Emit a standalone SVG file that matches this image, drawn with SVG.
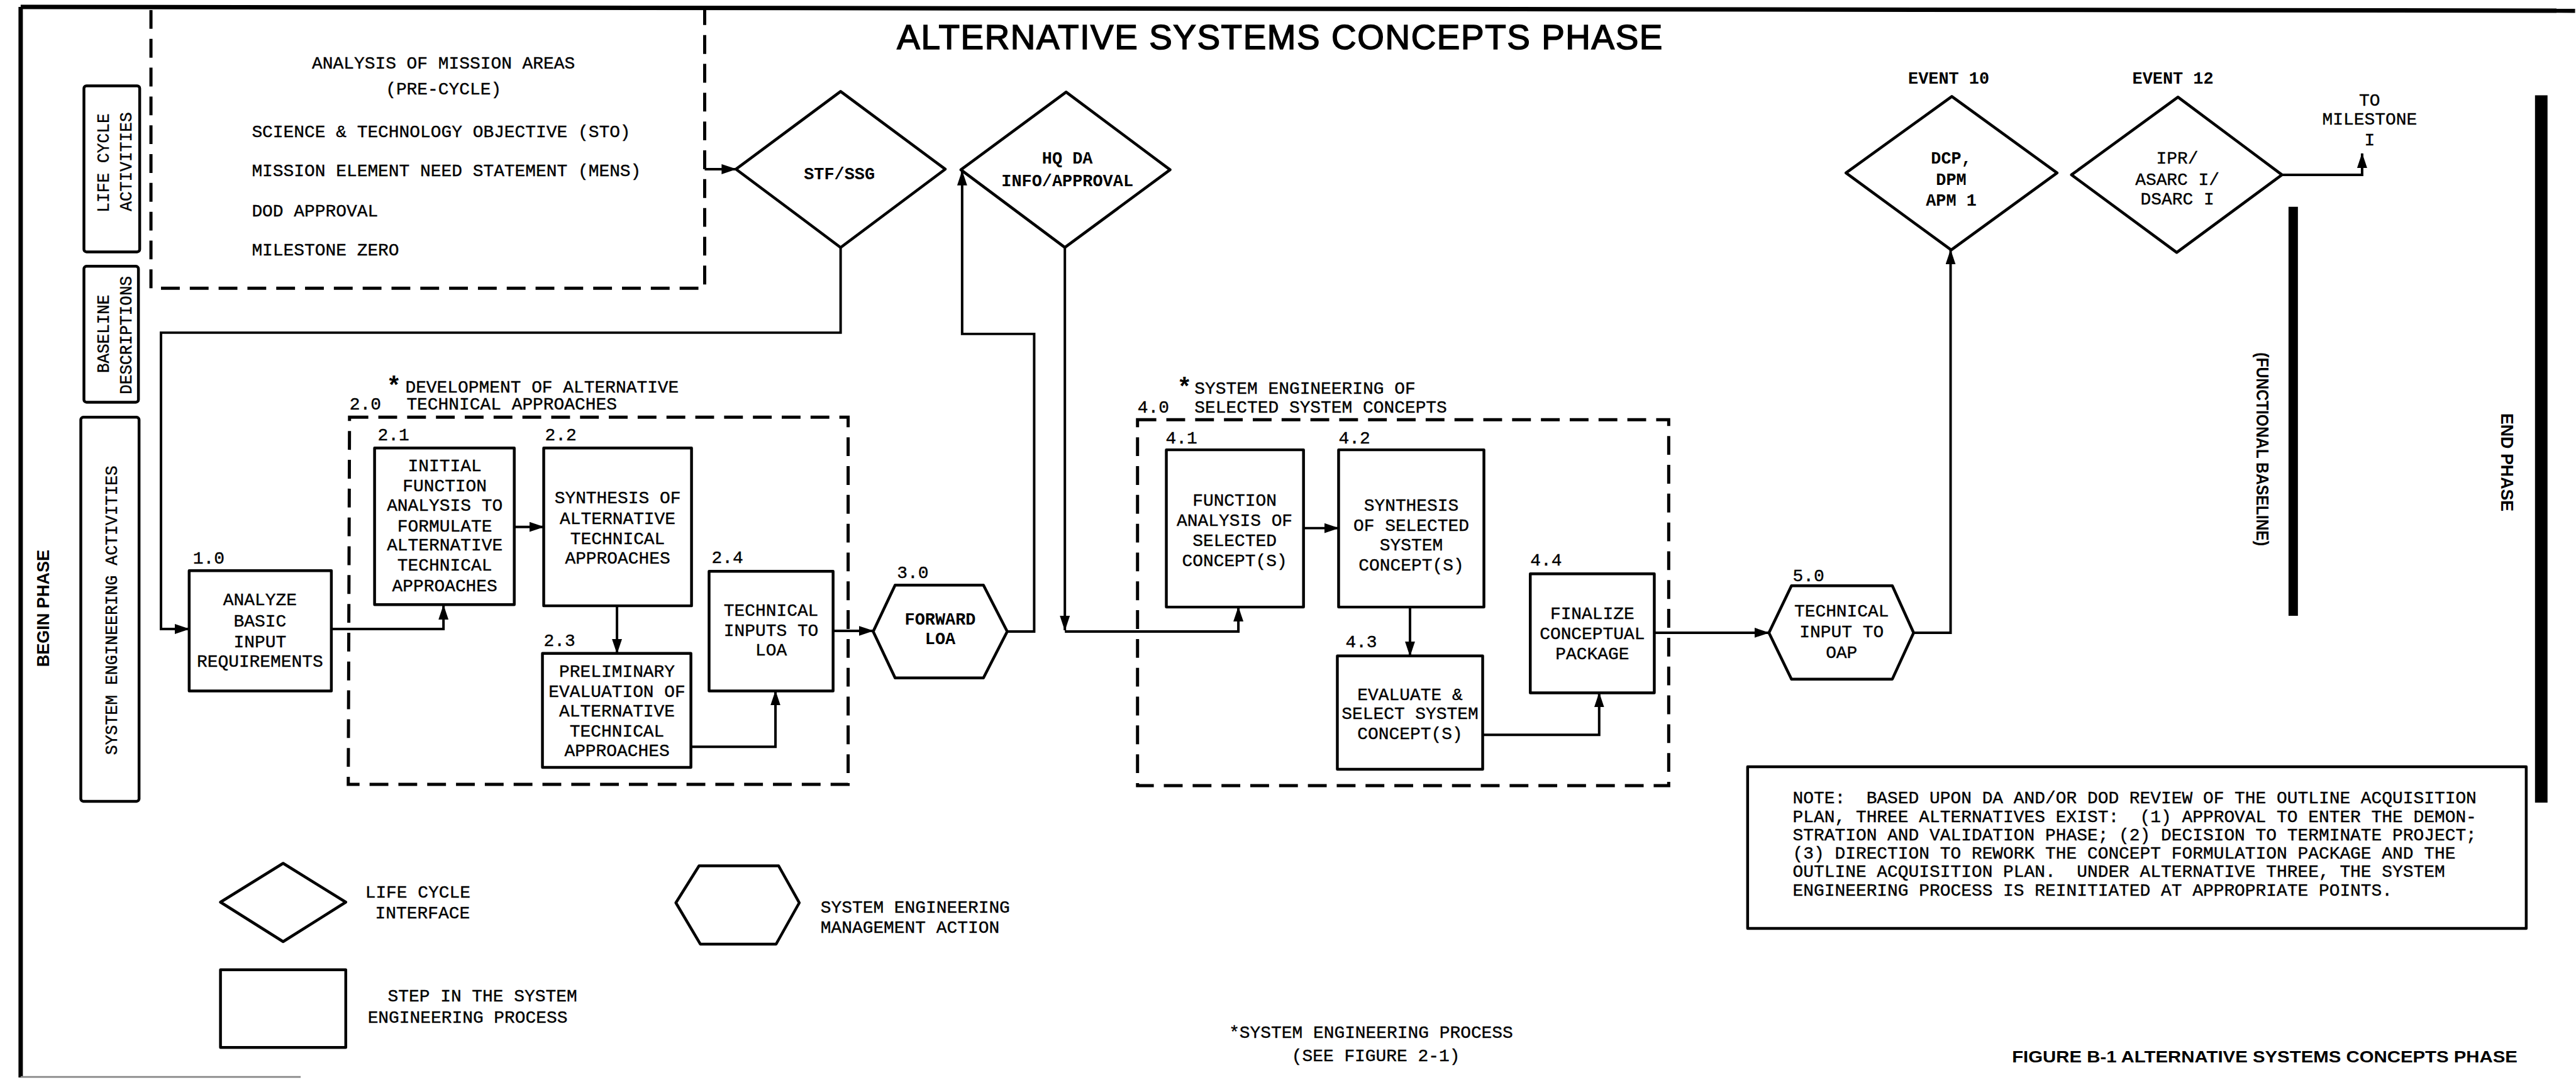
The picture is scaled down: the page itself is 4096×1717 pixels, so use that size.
<svg xmlns="http://www.w3.org/2000/svg" width="4096" height="1717" viewBox="0 0 4096 1717">
  <defs>
    <marker id="arrow" markerUnits="userSpaceOnUse" markerWidth="24" markerHeight="16" refX="23" refY="8" orient="auto">
      <path d="M0,0 L24,8 L0,16 z" fill="#000"/>
    </marker>
    <style>
      .frame { fill: none; stroke: #000; stroke-width: 7; }
      .box { fill: none; stroke: #000; stroke-width: 4.5; stroke-linejoin: round; }
      .side { fill: none; stroke: #000; stroke-width: 4.5; }
      .dash { fill: none; stroke: #000; stroke-width: 5; stroke-dasharray: 30 16; }
      .conn { fill: none; stroke: #000; stroke-width: 4; marker-end: url(#arrow); }
      .bar { stroke: #000; fill: none; }
      .m { font-family: "Liberation Mono", "DejaVu Sans Mono", monospace; font-size: 28px; fill: #000; stroke: #000; stroke-width: 0.4; }
      .mb { font-family: "Liberation Mono", "DejaVu Sans Mono", monospace; font-size: 27px; font-weight: bold; fill: #000; }
      .hb { font-family: "Liberation Sans", Arial, sans-serif; font-weight: bold; fill: #000; }
      .c { text-anchor: middle; }
      .pre { white-space: pre; }
      .title { font-family: "Liberation Sans", Arial, sans-serif; font-size: 55px; fill: #000; stroke: #000; stroke-width: 1.6; }
    </style>
  </defs>
  <rect width="4096" height="1717" fill="#fff"/>
  <g transform="scale(0.996)">
    <!-- sheet frame -->
    <path class="frame" d="M33,11 L4111,17"/>
    <path class="frame" d="M33,11 L33,1720"/>
    <path d="M33,1719 L480,1719" stroke="#888" stroke-width="3"/>

    <!-- title -->
    <text class="title" x="1432" y="78" textLength="1222" lengthAdjust="spacing">ALTERNATIVE SYSTEMS CONCEPTS PHASE</text>

    <!-- row labels -->
    <g id="row-life-cycle">
      <rect class="side" x="134" y="137" width="89" height="265" rx="4"/>
      <text class="m c" transform="translate(174,260) rotate(-90)" textLength="158" lengthAdjust="spacingAndGlyphs">LIFE CYCLE</text>
      <text class="m c" transform="translate(210,258) rotate(-90)" textLength="158" lengthAdjust="spacingAndGlyphs">ACTIVITIES</text>
    </g>
    <g id="row-baseline">
      <rect class="side" x="134" y="425" width="87" height="217" rx="4"/>
      <text class="m c" transform="translate(174,533) rotate(-90)" textLength="125" lengthAdjust="spacingAndGlyphs">BASELINE</text>
      <text class="m c" transform="translate(210,535) rotate(-90)" textLength="189" lengthAdjust="spacingAndGlyphs">DESCRIPTIONS</text>
    </g>
    <g id="row-system-engineering">
      <rect class="side" x="129" y="666" width="93" height="613" rx="4"/>
      <text class="m c" transform="translate(187,974) rotate(-90)" textLength="462" lengthAdjust="spacingAndGlyphs">SYSTEM ENGINEERING ACTIVITIES</text>
    </g>
    <text class="hb c" font-size="28" transform="translate(78,971) rotate(-90)" textLength="187" lengthAdjust="spacingAndGlyphs">BEGIN PHASE</text>

    <!-- phase boundaries -->
    <g id="functional-baseline">
      <path class="bar" d="M3661,330 L3661,983" stroke-width="15"/>
      <text class="hb c" font-size="28" transform="translate(3602,717) rotate(90)" textLength="309" lengthAdjust="spacingAndGlyphs">(FUNCTIONAL BASELINE)</text>
    </g>
    <g id="end-phase">
      <path class="bar" d="M4057,152 L4057,1281" stroke-width="20"/>
      <text class="hb c" font-size="28" transform="translate(3993,738) rotate(90)" textLength="157" lengthAdjust="spacingAndGlyphs">END PHASE</text>
    </g>

    <!-- pre-cycle activities -->
    <g id="pre-cycle">
      <path class="dash" d="M241,16 L241,460 L1125,460 L1125,16"/>
      <text class="m c" x="708" y="109">ANALYSIS OF MISSION AREAS</text>
      <text class="m c" x="708" y="151">(PRE-CYCLE)</text>
      <text class="m" x="402" y="219">SCIENCE &amp; TECHNOLOGY OBJECTIVE (STO)</text>
      <text class="m" x="402" y="281">MISSION ELEMENT NEED STATEMENT (MENS)</text>
      <text class="m" x="402" y="345">DOD APPROVAL</text>
      <text class="m" x="402" y="408">MILESTONE ZERO</text>
    </g>

    <!-- life cycle interfaces -->
    <g id="stf-ssg">
      <polygon class="box" points="1175,270 1342,146 1509,270 1342,395"/>
      <text class="mb c" x="1340" y="286">STF/SSG</text>
    </g>
    <g id="hq-da">
      <polygon class="box" points="1534,271 1702,147 1868,271 1700,395"/>
      <text class="mb c" x="1704" y="261">HQ DA</text>
      <text class="mb c" x="1704" y="297">INFO/APPROVAL</text>
    </g>
    <g id="event-10">
      <text class="mb c" x="3111" y="134">EVENT 10</text>
      <polygon class="box" points="2947,276 3116,154 3284,276 3115,399"/>
      <text class="mb c" x="3115" y="261">DCP,</text>
      <text class="mb c" x="3115" y="295">DPM</text>
      <text class="mb c" x="3115" y="328">APM 1</text>
    </g>
    <g id="event-12">
      <text class="mb c" x="3469" y="134">EVENT 12</text>
      <polygon class="box" points="3307,279 3477,155 3643,279 3475,403"/>
      <text class="m c" x="3476" y="261">IPR/</text>
      <text class="m c" x="3476" y="295">ASARC I/</text>
      <text class="m c" x="3476" y="326">DSARC I</text>
    </g>
    <g id="milestone-1">
      <text class="m c" x="3783" y="169">TO</text>
      <text class="m c" x="3783" y="199">MILESTONE</text>
      <text class="m c" x="3783" y="232">I</text>
    </g>

    <!-- step 1.0 -->
    <g id="step-1-0">
      <text class="m" x="308" y="900">1.0</text>
      <rect class="box" x="302" y="911" width="227" height="192"/>
      <text class="m c" x="415" y="966">ANALYZE</text>
      <text class="m c" x="415" y="1000">BASIC</text>
      <text class="m c" x="415" y="1033">INPUT</text>
      <text class="m c" x="415" y="1064">REQUIREMENTS</text>
    </g>

    <!-- group 2.0 -->
    <g id="group-2-0">
      <path class="dash" d="M558,666 L1354,666 L1354,1252 L556,1252 Z"/>
      <text class="hb" font-size="40" x="621" y="628">*</text>
      <text class="m" x="647" y="627">DEVELOPMENT OF ALTERNATIVE</text>
      <text class="m" x="558" y="654">2.0</text>
      <text class="m" x="649" y="654">TECHNICAL APPROACHES</text>
    </g>
    <g id="step-2-1">
      <text class="m" x="603" y="703">2.1</text>
      <rect class="box" x="598" y="715" width="223" height="250"/>
      <text class="m c" x="710" y="752">INITIAL</text>
      <text class="m c" x="710" y="784">FUNCTION</text>
      <text class="m c" x="710" y="815">ANALYSIS TO</text>
      <text class="m c" x="710" y="848">FORMULATE</text>
      <text class="m c" x="710" y="879">ALTERNATIVE</text>
      <text class="m c" x="710" y="911">TECHNICAL</text>
      <text class="m c" x="710" y="944">APPROACHES</text>
    </g>
    <g id="step-2-2">
      <text class="m" x="870" y="703">2.2</text>
      <rect class="box" x="868" y="715" width="236" height="252"/>
      <text class="m c" x="986" y="803">SYNTHESIS OF</text>
      <text class="m c" x="986" y="836">ALTERNATIVE</text>
      <text class="m c" x="986" y="868">TECHNICAL</text>
      <text class="m c" x="986" y="900">APPROACHES</text>
    </g>
    <g id="step-2-3">
      <text class="m" x="868" y="1031">2.3</text>
      <rect class="box" x="866" y="1043" width="237" height="182"/>
      <text class="m c" x="985" y="1080">PRELIMINARY</text>
      <text class="m c" x="985" y="1112">EVALUATION OF</text>
      <text class="m c" x="985" y="1144">ALTERNATIVE</text>
      <text class="m c" x="985" y="1176">TECHNICAL</text>
      <text class="m c" x="985" y="1207">APPROACHES</text>
    </g>
    <g id="step-2-4">
      <text class="m" x="1136" y="899">2.4</text>
      <rect class="box" x="1132" y="912" width="198" height="191"/>
      <text class="m c" x="1231" y="983">TECHNICAL</text>
      <text class="m c" x="1231" y="1015">INPUTS TO</text>
      <text class="m c" x="1231" y="1046">LOA</text>
    </g>

    <!-- action 3.0 -->
    <g id="action-3-0">
      <text class="m" x="1432" y="923">3.0</text>
      <polygon class="box" points="1394,1008 1429,934 1570,934 1608,1008 1570,1082 1429,1082"/>
      <text class="mb c" x="1501" y="997">FORWARD</text>
      <text class="mb c" x="1501" y="1028">LOA</text>
    </g>

    <!-- group 4.0 -->
    <g id="group-4-0">
      <path class="dash" d="M1816,670 L2664,670 L2664,1254 L1816,1254 Z"/>
      <text class="hb" font-size="40" x="1883" y="630">*</text>
      <text class="m" x="1907" y="629">SYSTEM ENGINEERING OF</text>
      <text class="m" x="1816" y="659">4.0</text>
      <text class="m" x="1907" y="659">SELECTED SYSTEM CONCEPTS</text>
    </g>
    <g id="step-4-1">
      <text class="m" x="1861" y="708">4.1</text>
      <rect class="box" x="1862" y="718" width="219" height="251"/>
      <text class="m c" x="1971" y="807">FUNCTION</text>
      <text class="m c" x="1971" y="839">ANALYSIS OF</text>
      <text class="m c" x="1971" y="871">SELECTED</text>
      <text class="m c" x="1971" y="904">CONCEPT(S)</text>
    </g>
    <g id="step-4-2">
      <text class="m" x="2137" y="708">4.2</text>
      <rect class="box" x="2137" y="718" width="232" height="251"/>
      <text class="m c" x="2253" y="815">SYNTHESIS</text>
      <text class="m c" x="2253" y="847">OF SELECTED</text>
      <text class="m c" x="2253" y="879">SYSTEM</text>
      <text class="m c" x="2253" y="911">CONCEPT(S)</text>
    </g>
    <g id="step-4-3">
      <text class="m" x="2148" y="1033">4.3</text>
      <rect class="box" x="2135" y="1047" width="232" height="181"/>
      <text class="m c" x="2251" y="1117">EVALUATE &amp;</text>
      <text class="m c" x="2251" y="1148">SELECT SYSTEM</text>
      <text class="m c" x="2251" y="1180">CONCEPT(S)</text>
    </g>
    <g id="step-4-4">
      <text class="m" x="2443" y="903">4.4</text>
      <rect class="box" x="2443" y="916" width="198" height="190"/>
      <text class="m c" x="2542" y="988">FINALIZE</text>
      <text class="m c" x="2542" y="1020">CONCEPTUAL</text>
      <text class="m c" x="2542" y="1052">PACKAGE</text>
    </g>

    <!-- action 5.0 -->
    <g id="action-5-0">
      <text class="m" x="2862" y="928">5.0</text>
      <polygon class="box" points="2824,1010 2860,935 3021,935 3055,1010 3021,1084 2860,1084"/>
      <text class="m c" x="2940" y="984">TECHNICAL</text>
      <text class="m c" x="2940" y="1017">INPUT TO</text>
      <text class="m c" x="2940" y="1050">OAP</text>
    </g>

    <!-- flow connectors -->
    <g id="connectors">
      <path class="conn" d="M1125,270 L1175,270"/>
      <path class="conn" d="M1342,395 L1342,531 L257,531 L257,1004 L302,1004"/>
      <path class="conn" d="M529,1004 L708,1004 L708,966"/>
      <path class="conn" d="M821,841 L868,841"/>
      <path class="conn" d="M985,967 L985,1043"/>
      <path class="conn" d="M1103,1192 L1238,1192 L1238,1103"/>
      <path class="conn" d="M1330,1007 L1394,1007"/>
      <path class="conn" d="M1608,1008 L1651,1008 L1651,533 L1536,533 L1536,273"/>
      <path class="conn" d="M1700,395 L1700,1006"/>
      <path class="conn" d="M1700,1008 L1977,1008 L1977,969"/>
      <path class="conn" d="M2081,843 L2137,843"/>
      <path class="conn" d="M2251,969 L2251,1047"/>
      <path class="conn" d="M2367,1173 L2553,1173 L2553,1106"/>
      <path class="conn" d="M2641,1010 L2824,1010"/>
      <path class="conn" d="M3055,1010 L3114,1010 L3114,399"/>
      <path class="conn" d="M3643,279 L3771,279 L3771,245"/>
    </g>

    <!-- note -->
    <g id="note">
      <rect class="box" x="2790" y="1224" width="1243" height="258"/>
      <text class="m pre" xml:space="preserve" x="2862" y="1282">NOTE:  BASED UPON DA AND/OR DOD REVIEW OF THE OUTLINE ACQUISITION</text>
      <text class="m pre" xml:space="preserve" x="2862" y="1312">PLAN, THREE ALTERNATIVES EXIST:  (1) APPROVAL TO ENTER THE DEMON-</text>
      <text class="m pre" xml:space="preserve" x="2862" y="1341">STRATION AND VALIDATION PHASE; (2) DECISION TO TERMINATE PROJECT;</text>
      <text class="m pre" xml:space="preserve" x="2862" y="1370">(3) DIRECTION TO REWORK THE CONCEPT FORMULATION PACKAGE AND THE</text>
      <text class="m pre" xml:space="preserve" x="2862" y="1400">OUTLINE ACQUISITION PLAN.  UNDER ALTERNATIVE THREE, THE SYSTEM</text>
      <text class="m pre" xml:space="preserve" x="2862" y="1430">ENGINEERING PROCESS IS REINITIATED AT APPROPRIATE POINTS.</text>
    </g>

    <!-- legend -->
    <g id="legend-life-cycle-interface">
      <polygon class="box" points="352,1440 452,1378 552,1440 452,1503"/>
      <text class="m" x="583" y="1433">LIFE CYCLE</text>
      <text class="m" x="599" y="1466">INTERFACE</text>
    </g>
    <g id="legend-management-action">
      <polygon class="box" points="1079,1441 1116,1382 1243,1382 1276,1441 1239,1507 1118,1507"/>
      <text class="m" x="1310" y="1457">SYSTEM ENGINEERING</text>
      <text class="m" x="1310" y="1489">MANAGEMENT ACTION</text>
    </g>
    <g id="legend-step">
      <rect class="box" x="352" y="1548" width="200" height="124"/>
      <text class="m" x="619" y="1598">STEP IN THE SYSTEM</text>
      <text class="m" x="587" y="1633">ENGINEERING PROCESS</text>
    </g>

    <!-- footnotes -->
    <text class="m" x="1962" y="1657">*SYSTEM ENGINEERING PROCESS</text>
    <text class="m" x="2062" y="1694">(SEE FIGURE 2-1)</text>
    <text class="hb" font-size="26" x="3212" y="1696" textLength="807" lengthAdjust="spacingAndGlyphs">FIGURE B-1 ALTERNATIVE SYSTEMS CONCEPTS PHASE</text>
  </g>
</svg>
